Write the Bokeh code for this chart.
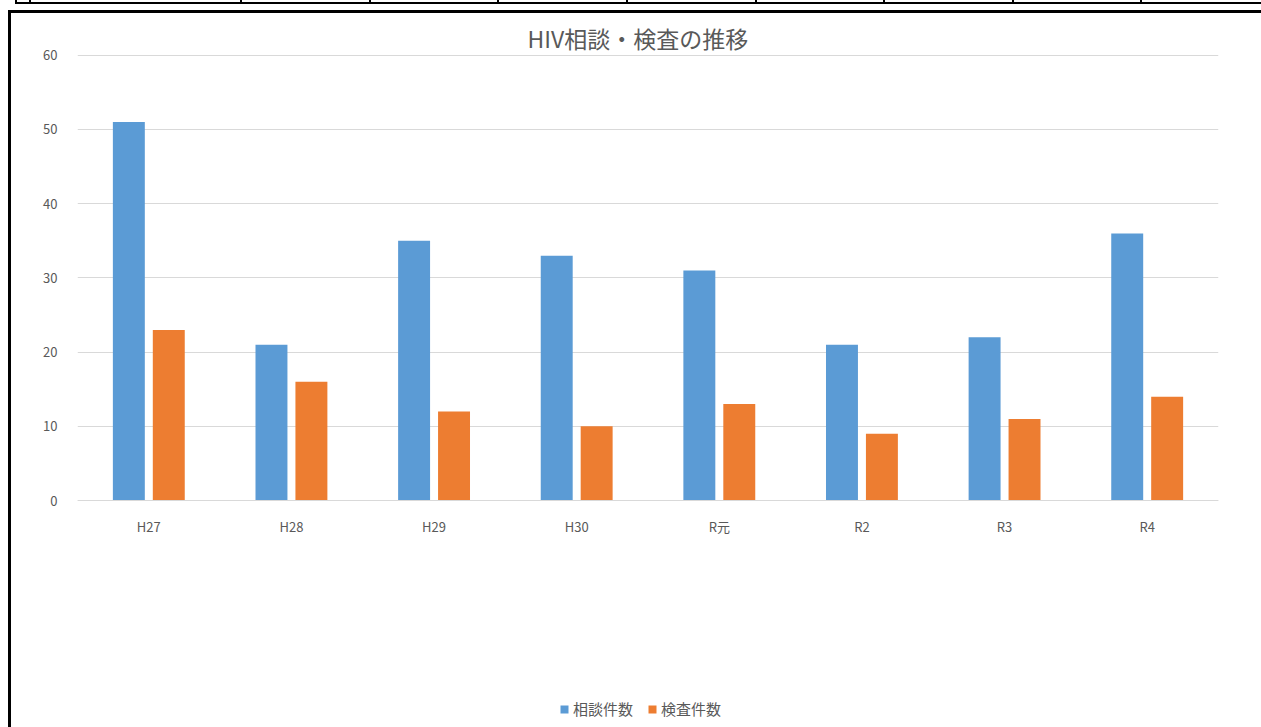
from bokeh.plotting import figure
from bokeh.models import FactorRange, Legend, LegendItem, Div, ColumnDataSource, Range1d
from bokeh.transform import dodge
from bokeh.layouts import column, row
from bokeh.embed import file_html
from bokeh.resources import INLINE

categories = ["H27", "H28", "H29", "H30", "R元", "R2", "R3", "R4"]
consult = [51, 21, 35, 33, 31, 21, 22, 36]
tests = [23, 16, 12, 10, 13, 9, 11, 14]
series_names = ["相談件数", "検査件数"]
colors = ["#5B9BD5", "#ED7D31"]
y_ticks = [0, 10, 20, 30, 40, 50, 60]

FONT = "Noto Sans CJK JP"
GRAY = "#595959"

src = ColumnDataSource(dict(cat=categories, consult=consult, tests=tests))

p = figure(
    x_range=FactorRange(*categories, range_padding=0),
    y_range=Range1d(-30.57, 60.1),
    width=1250, height=714,
    output_backend="svg", toolbar_location=None,
    min_border_left=66, min_border_right=43, min_border_top=41, min_border_bottom=0,
)
p.margin = 0

r1 = p.vbar(x=dodge("cat", -0.14, range=p.x_range), top="consult", width=0.224,
            source=src, fill_color=colors[0], line_color=None)
r2 = p.vbar(x=dodge("cat", 0.14, range=p.x_range), top="tests", width=0.224,
            source=src, fill_color=colors[1], line_color=None)

p.title.text = "HIV相談・検査の推移"
p.title.align = "left"
p.title.text_font = FONT
p.title.text_font_size = "23px"
p.title.text_font_style = "normal"
p.title.text_color = GRAY
p.title.standoff = 0
p.title.offset = 450

p.outline_line_color = None
p.xgrid.grid_line_color = None
p.ygrid.grid_line_color = "#D9D9D9"
p.ygrid.grid_line_width = 1

p.yaxis.ticker = y_ticks
p.yaxis.axis_line_color = None
p.yaxis.major_tick_line_color = None
p.yaxis.minor_tick_line_color = None
p.yaxis.major_label_text_font = FONT
p.yaxis.major_label_text_font_size = "13px"
p.yaxis.major_label_text_color = GRAY
p.yaxis.major_label_standoff = 14

p.xaxis.fixed_location = 0
p.xaxis.axis_line_color = "#D9D9D9"
p.xaxis.major_tick_line_color = None
p.xaxis.minor_tick_line_color = None
p.xaxis.major_label_text_font = FONT
p.xaxis.major_label_text_font_size = "13px"
p.xaxis.major_label_text_color = GRAY
p.xaxis.major_label_standoff = 10

legend = Legend(
    items=[LegendItem(label=series_names[0], renderers=[r1]),
           LegendItem(label=series_names[1], renderers=[r2])],
    orientation="horizontal",
    location=(482, 8),
    glyph_width=10, glyph_height=10,
    label_text_font=FONT, label_text_font_size="15px", label_text_color=GRAY,
    label_standoff=4, spacing=14, padding=0, margin=0,
    border_line_color=None, background_fill_alpha=0,
)
p.add_layout(legend, "center")

xs = [15, 29, 240, 369, 497, 626, 755, 883, 1012, 1140]
lines = "".join(
    f'<div style="position:absolute;left:{x}px;top:0px;width:2px;height:4px;background:#000"></div>'
    for x in xs)
strip_html = (
    '<div style="position:relative;width:1261px;height:13px;overflow:hidden;margin:0;padding:0">'
    '<div style="position:absolute;left:15px;top:2px;width:1246px;height:2px;background:#000"></div>'
    + lines +
    '<div style="position:absolute;left:8px;top:10px;width:1253px;height:3px;background:#000"></div>'
    '</div>')
strip = Div(text=strip_html, width=1261, height=13, margin=0)
left_border = Div(text='<div style="width:3px;height:714px;background:#000"></div>',
                  width=3, height=714, margin=(0, 0, 0, 8))

layout = column(strip, row(left_border, p, spacing=0, margin=0), spacing=0, margin=0)
open("out.html", "w").write(file_html(layout, INLINE))
